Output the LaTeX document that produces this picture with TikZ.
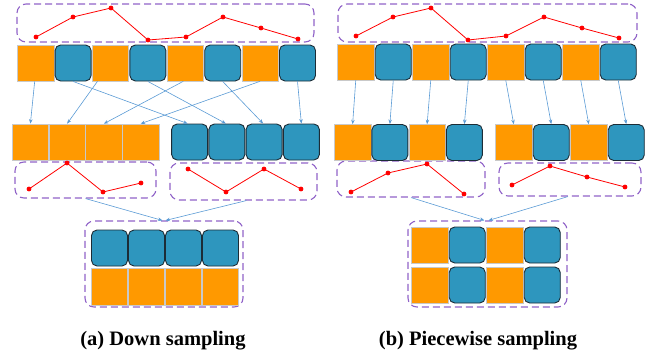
\documentclass[tikz,border=0pt]{standalone}
\usepackage{fontspec}
\setmainfont{Liberation Serif}
\usetikzlibrary{arrows.meta}
\definecolor{cellorange}{HTML}{FF9900}
\definecolor{cellblue}{HTML}{2E96BE}
\definecolor{celledge}{HTML}{1C2C36}
\definecolor{oedge}{HTML}{C9C9C9}
\definecolor{boxpurple}{HTML}{9063C8}
\definecolor{arrowblue}{HTML}{5B9BD5}
\definecolor{dotred}{HTML}{FF0000}
\tikzset{
  ocell/.style={rectangle, draw=oedge, line width=0.6pt, fill=cellorange, minimum width=36.5pt, minimum height=36pt, inner sep=0pt},
  bcell/.style={rectangle, rounded corners=5.5pt, draw=celledge, line width=0.9pt, fill=cellblue, minimum width=36pt, minimum height=36pt, inner sep=0pt},
  dbox/.style={rectangle, rounded corners=9pt, draw=boxpurple, line width=1.1pt, dash pattern=on 7pt off 4pt, inner sep=0pt},
  dot/.style={circle, fill=dotred, inner sep=0pt, minimum size=4.8pt},
  redline/.style={draw=dotred, line width=0.8pt},
  conn/.style={draw=arrowblue, line width=0.6pt, -{Stealth[length=4.5pt,width=3.5pt]}},
  captext/.style={font=\bfseries\fontsize{20.5}{24}\selectfont, anchor=base, inner sep=0pt}
}
\begin{document}
\begin{tikzpicture}[x=1pt,y=-1pt]
\useasboundingbox (0,0) rectangle (665,354);

% ================= Panel (a) =================
\node[dbox, minimum width=297pt, minimum height=38pt] (aT) at (165.5,23) {};
\node[dbox, minimum width=141pt, minimum height=36pt] (aL) at (85.5,180) {};
\node[dbox, minimum width=147pt, minimum height=37pt] (aR) at (243.5,181.5) {};
\node[dbox, minimum width=158pt, minimum height=86pt] (aF) at (164,264) {};

% top row
\foreach \i in {1,3,5,7} { \node[ocell] (at\i) at ({17+37.4*(\i-0.5)},63) {}; }
\foreach \i in {2,4,6,8} { \node[bcell] (at\i) at ({17+37.4*(\i-0.5)},63) {}; }
% second row
\foreach \i in {1,2,3,4} { \node[ocell] (ao\i) at ({12+36.75*(\i-0.5)},142) {}; }
\foreach \i in {1,2,3,4} { \node[bcell] (ab\i) at ({171+37.25*(\i-0.5)},142) {}; }
% final box rows
\foreach \i in {1,2,3,4} { \node[bcell] (afb\i) at ({91+37*(\i-0.5)},248) {}; }
\foreach \i in {1,2,3,4} { \node[ocell, minimum height=37pt] (afo\i) at ({91+37*(\i-0.5)},286.5) {}; }

% arrows
\draw[conn] ([xshift=-1pt]at1.south) -- (ao1.north);
\draw[conn] ([xshift=-13pt]at3.south) -- (ao2.north);
\draw[conn] ([xshift=-2pt]at5.south) -- (ao3.north);
\draw[conn] (at7.south) -- (ao4.north);
\draw[conn] (at2.south) -- ([xshift=-2pt]ab1.north);
\draw[conn] (at4.south) -- ([xshift=-1pt]ab2.north);
\draw[conn] (at6.south) -- ([xshift=-1pt]ab3.north);
\draw[conn] (at8.south) -- (ab4.north);
\draw[conn] (aL.south) -- ([xshift=-1.5pt]aF.north);
\draw[conn] ([xshift=3pt]aR.south) -- ([xshift=1.5pt]aF.north);

% red curves
\foreach \n/\x/\y in {a1/36/37, a2/73/17, a3/111/8, a4/148/40, a5/186/37, a6/223/17, a7/261/28, a8/298/39,
  aL1/29/189, aL2/67/163, aL3/103/192, aL4/141/183,
  aR1/188/169, aR2/226/192, aR3/264/169, aR4/301/189} { \node[dot] (\n) at (\x,\y) {}; }
\draw[redline] (a1.center) -- (a2.center) -- (a3.center) -- (a4.center) -- (a5.center) -- (a6.center) -- (a7.center) -- (a8.center);
\draw[redline] (aL1.center) -- (aL2.center) -- (aL3.center) -- (aL4.center);
\draw[redline] (aR1.center) -- (aR2.center) -- (aR3.center) -- (aR4.center);

\node[captext] (capa) at (163,345) {(a) Down sampling};

% ================= Panel (b) =================
\node[dbox, minimum width=299pt, minimum height=38pt] (bT) at (487.5,23) {};
\node[dbox, minimum width=148pt, minimum height=36pt] (bL) at (411,179) {};
\node[dbox, minimum width=142pt, minimum height=33pt] (bR) at (570,179.5) {};
\node[dbox, minimum width=159pt, minimum height=86pt] (bF) at (487.5,264) {};

\foreach \i in {1,3,5,7} { \node[ocell] (bt\i) at ({337+37.5*(\i-0.5)},62) {}; }
\foreach \i in {2,4,6,8} { \node[bcell] (bt\i) at ({337+37.5*(\i-0.5)},62) {}; }
\foreach \i in {1,3} { \node[ocell] (bl\i) at ({334+37.25*(\i-0.5)},142.5) {}; }
\foreach \i in {2,4} { \node[bcell] (bl\i) at ({334+37.25*(\i-0.5)},142.5) {}; }
\foreach \i in {1,3} { \node[ocell] (br\i) at ({495+37.5*(\i-0.5)},142.5) {}; }
\foreach \i in {2,4} { \node[bcell] (br\i) at ({495+37.5*(\i-0.5)},142.5) {}; }
\foreach \i in {1,3} { \node[ocell] (bfa\i) at ({411+37.5*(\i-0.5)},245) {}; \node[ocell] (bfb\i) at ({411+37.5*(\i-0.5)},285) {}; }
\foreach \i in {2,4} { \node[bcell] (bfa\i) at ({411+37.5*(\i-0.5)},245) {}; \node[bcell] (bfb\i) at ({411+37.5*(\i-0.5)},285) {}; }

\draw[conn] (bt1.south) -- (bl1.north);
\draw[conn] (bt2.south) -- (bl2.north);
\draw[conn] (bt3.south) -- (bl3.north);
\draw[conn] (bt4.south) -- (bl4.north);
\draw[conn] (bt5.south) -- (br1.north);
\draw[conn] (bt6.south) -- (br2.north);
\draw[conn] (bt7.south) -- (br3.north);
\draw[conn] (bt8.south) -- (br4.north);
\draw[conn] (bL.south) -- ([xshift=-3pt]bF.north);
\draw[conn] ([xshift=-2pt]bR.south) -- ([xshift=1pt]bF.north);

\foreach \n/\x/\y in {b1/356/36, b2/393/17, b3/431/8, b4/468/40, b5/506/36, b6/544/17, b7/582/28, b8/619/38,
  bL1/351/192, bL2/388/173, bL3/427/164, bL4/464/194,
  bR1/512/185, bR2/550/166, bR3/587/177, bR4/625/187} { \node[dot] (\n) at (\x,\y) {}; }
\draw[redline] (b1.center) -- (b2.center) -- (b3.center) -- (b4.center) -- (b5.center) -- (b6.center) -- (b7.center) -- (b8.center);
\draw[redline] (bL1.center) -- (bL2.center) -- (bL3.center) -- (bL4.center);
\draw[redline] (bR1.center) -- (bR2.center) -- (bR3.center) -- (bR4.center);

\node[captext] (capb) at (478,345) {(b) Piecewise sampling};
\end{tikzpicture}
\end{document}
